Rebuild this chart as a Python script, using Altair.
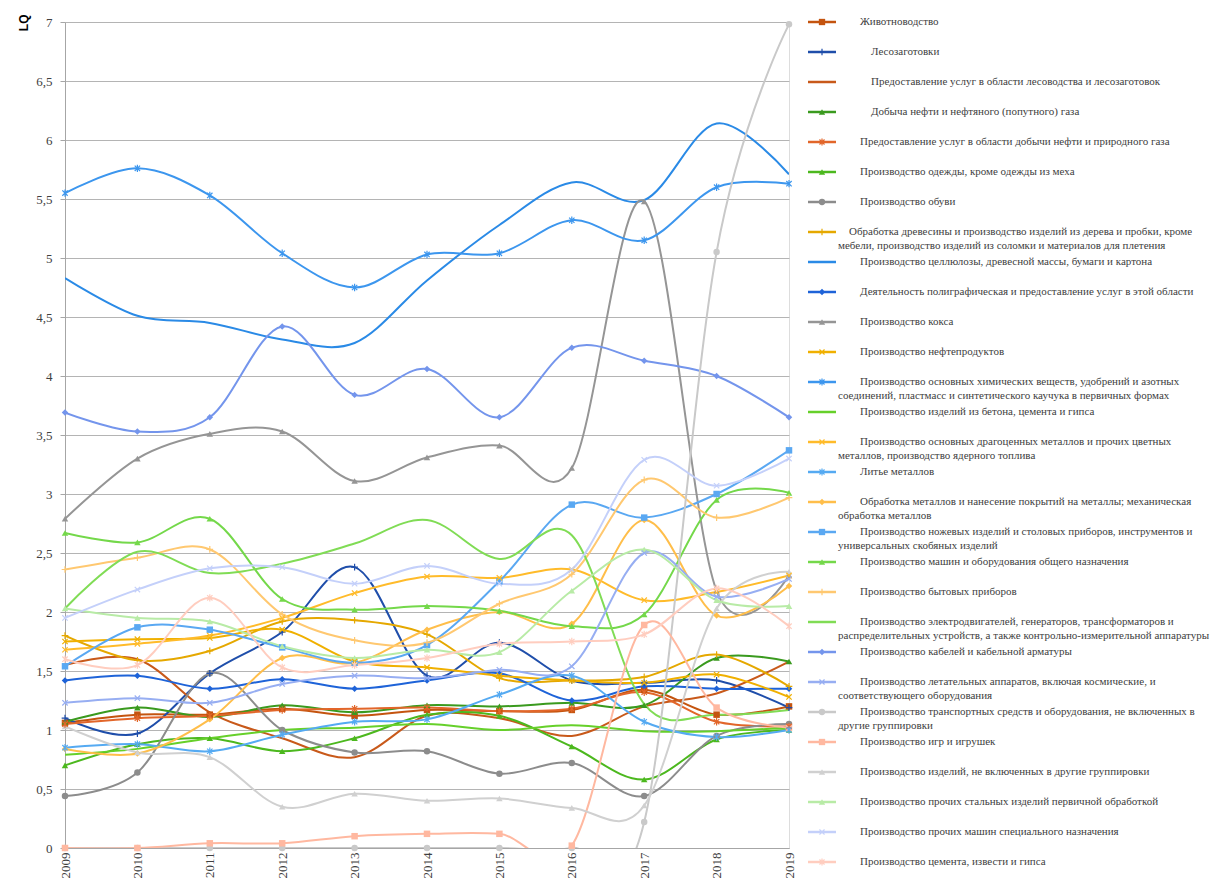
import altair as alt
import pandas as pd

years = list(range(2009, 2020))
y_ticks = [0, 0.5, 1, 1.5, 2, 2.5, 3, 3.5, 4, 4.5, 5, 5.5, 6, 6.5, 7]

names = [
    "Животноводство",
    "Лесозаготовки",
    "Предоставление услуг в области лесоводства и лесозаготовок",
    "Добыча нефти и нефтяного (попутного) газа",
    "Предоставление услуг в области добычи нефти и природного газа",
    "Производство одежды, кроме одежды из меха",
    "Производство обуви",
    "Обработка древесины и производство изделий из дерева и пробки, кроме\nмебели, производство изделий из соломки и материалов для плетения",
    "Производство целлюлозы, древесной массы, бумаги и картона",
    "Деятельность полиграфическая и предоставление услуг в этой области",
    "Производство кокса",
    "Производство нефтепродуктов",
    "Производство основных химических веществ, удобрений и азотных\nсоединений, пластмасс и синтетического каучука в первичных  формах",
    "Производство изделий из бетона, цемента и гипса",
    "Производство основных драгоценных  металлов и прочих цветных\nметаллов, производство ядерного топлива",
    "Литье металлов",
    "Обработка металлов и нанесение  покрытий  на металлы; механическая\nобработка металлов",
    "Производство ножевых изделий  и столовых приборов, инструментов и\nуниверсальных  скобяных изделий",
    "Производство машин и оборудования общего назначения",
    "Производство бытовых приборов",
    "Производство электродвигателей, генераторов, трансформаторов и\nраспределительных  устройств, а также контрольно-измерительной  аппаратуры",
    "Производство кабелей и кабельной арматуры",
    "Производство летательных  аппаратов,  включая космические, и\nсоответствующего оборудования",
    "Производство транспортных  средств и оборудования, не включенных в\nдругие группировки",
    "Производство игр и игрушек",
    "Производство изделий, не  включенных в другие группировки",
    "Производство прочих  стальных  изделий  первичной  обработкой",
    "Производство прочих  машин специального  назначения",
    "Производство цемента, извести и гипса",
]

# tab level of the first line of each legend label (1 = short, 2 = normal, 3 = deep)
tab_levels = [2, 3, 3, 3, 2, 2, 2, 1, 2, 2, 2, 2, 2, 2, 2, 2, 2, 2, 2, 2, 2, 2, 2, 2, 2, 2, 2, 2, 2]

colors = [
    "#C4540F", "#1F4EAA", "#C8591A", "#3A9A1E", "#E2662A", "#4CB81E", "#8C8C8C",
    "#E5A800", "#2A8AE6", "#1E63D8", "#959595", "#F0B000", "#3C96EE", "#66D02A",
    "#FFBB2A", "#55AAF2", "#FFBE4A", "#5AA8F2", "#74D84A", "#FFC870", "#80DC55",
    "#7495EC", "#97AEF2", "#C9C9C9", "#FFB8A0", "#D0D0D0", "#B8EBA6", "#C4D0FA",
    "#FFCDBF",
]

markers = [
    "square", "plus", "none", "triangle", "asterisk", "triangle", "circle",
    "plus", "none", "diamond", "triangle", "x", "asterisk", "none",
    "x", "asterisk", "diamond", "square", "triangle", "plus", "none",
    "diamond", "x", "circle", "square", "triangle", "triangle", "x",
    "asterisk",
]

s01 = [1.06, 1.13, 1.13, 1.18, 1.12, 1.17, 1.16, 1.17, 1.34, 1.13, 1.20]
s02 = [1.10, 0.97, 1.48, 1.83, 2.38, 1.46, 1.74, 1.42, 1.40, 1.42, 1.19]
s03 = [1.55, 1.60, 1.15, 0.93, 0.77, 1.12, 1.10, 0.95, 1.20, 1.31, 1.58]
s04 = [1.07, 1.19, 1.11, 1.21, 1.15, 1.21, 1.20, 1.23, 1.21, 1.61, 1.58]
s05 = [1.05, 1.10, 1.12, 1.17, 1.18, 1.19, 1.16, 1.18, 1.32, 1.07, 1.03]
s06 = [0.70, 0.88, 0.93, 0.82, 0.93, 1.13, 1.12, 0.86, 0.58, 0.92, 1.00]
s07 = [0.44, 0.64, 1.48, 1.00, 0.81, 0.82, 0.63, 0.72, 0.44, 0.95, 1.05]
s08 = [1.80, 1.59, 1.67, 1.92, 1.93, 1.81, 1.44, 1.42, 1.45, 1.64, 1.37]
s09 = [4.83, 4.51, 4.45, 4.31, 4.28, 4.81, 5.28, 5.64, 5.49, 6.14, 5.71]
s10 = [1.42, 1.46, 1.35, 1.43, 1.35, 1.42, 1.48, 1.25, 1.37, 1.35, 1.35]
s11 = [2.79, 3.30, 3.51, 3.53, 3.11, 3.31, 3.41, 3.22, 5.48, 2.18, 2.31]
s12 = [1.75, 1.77, 1.78, 1.85, 1.58, 1.53, 1.46, 1.42, 1.40, 1.47, 1.28]
s13 = [5.55, 5.76, 5.53, 5.04, 4.75, 5.03, 5.04, 5.32, 5.15, 5.60, 5.63]
s14 = [0.79, 0.84, 0.93, 1.00, 1.02, 1.05, 1.00, 1.04, 0.99, 0.99, 1.02]
s15 = [1.68, 1.73, 1.80, 1.95, 2.16, 2.30, 2.29, 2.36, 2.10, 2.17, 2.31]
s16 = [0.85, 0.88, 0.82, 0.96, 1.07, 1.09, 1.30, 1.46, 1.07, 0.94, 1.00]
s17 = [0.84, 0.80, 1.09, 1.61, 1.57, 1.85, 2.00, 1.90, 2.78, 1.97, 2.22]
s18 = [1.54, 1.87, 1.85, 1.70, 1.57, 1.72, 2.26, 2.91, 2.80, 3.00, 3.37]
s19 = [2.67, 2.59, 2.79, 2.11, 2.02, 2.05, 2.01, 1.88, 1.98, 2.95, 3.01]
s20 = [2.36, 2.46, 2.53, 1.98, 1.76, 1.74, 2.07, 2.32, 3.12, 2.80, 2.97]
s21 = [2.03, 2.51, 2.33, 2.41, 2.58, 2.78, 2.45, 2.65, 1.22, 1.13, 1.17]
s22 = [3.69, 3.53, 3.65, 4.42, 3.84, 4.06, 3.65, 4.24, 4.13, 4.00, 3.65]
s23 = [1.23, 1.27, 1.23, 1.39, 1.46, 1.44, 1.51, 1.54, 2.50, 2.13, 2.28]
s24 = [0.00, 0.00, 0.00, 0.00, 0.00, 0.00, 0.00, 0.00, 0.22, 5.05, 6.98]
s25 = [0.00, 0.00, 0.04, 0.04, 0.10, 0.12, 0.12, 0.02, 1.89, 1.19, 1.02]
s26 = [1.03, 0.81, 0.77, 0.35, 0.46, 0.40, 0.42, 0.34, 0.36, 2.03, 2.34]
s27 = [2.03, 1.95, 1.92, 1.71, 1.61, 1.68, 1.66, 2.18, 2.53, 2.10, 2.05]
s28 = [1.95, 2.19, 2.37, 2.38, 2.24, 2.39, 2.24, 2.36, 3.29, 3.07, 3.30]
s29 = [1.60, 1.55, 2.12, 1.53, 1.55, 1.61, 1.73, 1.75, 1.81, 2.20, 1.88]

series = [s01, s02, s03, s04, s05, s06, s07, s08, s09, s10, s11, s12, s13, s14,
          s15, s16, s17, s18, s19, s20, s21, s22, s23, s24, s25, s26, s27, s28, s29]

# ---- long tables ----
rows = []
for i, (n, m, vals) in enumerate(zip(names, markers, series)):
    for yr, v in zip(years, vals):
        rows.append({"name": n, "order": i, "marker": m, "year": yr, "value": v})
df = pd.DataFrame(rows)

line1 = [n.split("\n")[0] for n in names]
line2 = [n.split("\n")[1] if "\n" in n else "" for n in names]
leg = pd.DataFrame({
    "name": names,
    "idx": list(range(len(names))),
    "marker": markers,
    "line1": line1,
    "line2": line2,
    "level": tab_levels,
})

shape_domain = ["square", "triangle", "circle", "diamond", "plus", "x", "asterisk"]
shape_range = [
    "square", "triangle-up", "circle", "diamond",
    "M-1,0L1,0M0,-1L0,1",
    "M-0.8,-0.8L0.8,0.8M-0.8,0.8L0.8,-0.8",
    "M-0.8,-0.8L0.8,0.8M-0.8,0.8L0.8,-0.8M0,-1.1L0,1.1",
]
filled_kinds = ["square", "triangle", "circle", "diamond"]
stroke_kinds = ["plus", "x", "asterisk"]

color = alt.Color("name:N", scale=alt.Scale(domain=names, range=colors), legend=None)
shape = alt.Shape("marker:N", scale=alt.Scale(domain=shape_domain, range=shape_range), legend=None)

W, H = 724, 826
serif = "Liberation Serif"

x_enc = alt.X("year:Q", scale=alt.Scale(domain=[2009, 2019], nice=False, zero=False),
              axis=alt.Axis(values=years, format="d", labelAngle=-90, grid=False, ticks=False,
                            title=None, labelFont=serif, labelFontSize=13, labelColor="#404040",
                            domainColor="#A6A6A6", labelPadding=4))
y_enc = alt.Y("value:Q", scale=alt.Scale(domain=[0, 7], nice=False, zero=True),
              axis=alt.Axis(values=y_ticks, format="~g",
                            labelExpr="replace(datum.label, '.', ',')",
                            title="LQ", titleFont="Liberation Sans", titleFontSize=12,
                            titleFontWeight="bold", titleColor="#000000", titleAngle=-90,
                            titleAlign="right", titleBaseline="middle", titleX=-42, titleY=-8,
                            labelFont=serif, labelFontSize=13, labelColor="#404040",
                            labelPadding=8, tickSize=5, tickColor="#A6A6A6",
                            gridColor="#B4B4B4", domainColor="#A6A6A6"))

base = alt.Chart(df)
lines = base.mark_line(interpolate="cardinal", tension=0, strokeWidth=2, clip=True).encode(
    x=x_enc, y=y_enc, color=color, detail="order:O")
pts_f = base.transform_filter(
    alt.FieldOneOfPredicate(field="marker", oneOf=filled_kinds)
).mark_point(filled=True, size=42, opacity=1).encode(
    x="year:Q", y="value:Q", color=color, shape=shape)
pts_s = base.transform_filter(
    alt.FieldOneOfPredicate(field="marker", oneOf=stroke_kinds)
).mark_point(filled=False, size=45, strokeWidth=1.2, opacity=1).encode(
    x="year:Q", y="value:Q", color=color, shape=shape)

main = alt.layer(lines, pts_f, pts_s)

# ---- hand-built legend on the right ----
leg_y = alt.Y("idx:Q", scale=alt.Scale(domain=[0, H / 30], reverse=True, nice=False, zero=False),
              axis=None)
lbase = alt.Chart(leg)
l_rule = lbase.mark_rule(strokeWidth=2.5).encode(
    x=alt.value(743), x2=alt.value(771), y=leg_y, color=color)
l_pf = lbase.transform_filter(
    alt.FieldOneOfPredicate(field="marker", oneOf=filled_kinds)
).mark_point(filled=True, size=40, opacity=1).encode(
    x=alt.value(757), y=leg_y, color=color, shape=shape)
l_ps = lbase.transform_filter(
    alt.FieldOneOfPredicate(field="marker", oneOf=stroke_kinds)
).mark_point(filled=False, size=40, strokeWidth=1.2, opacity=1).encode(
    x=alt.value(757), y=leg_y, color=color, shape=shape)

text_style = dict(align="left", baseline="middle", font=serif, fontSize=11, color="#404040")
tab_px = {1: 11, 2: 22, 3: 33}
l_texts = []
for lvl, px in tab_px.items():
    l_texts.append(
        lbase.transform_filter(alt.datum.level == lvl).mark_text(**text_style).encode(
            x=alt.value(773 + px), y=leg_y, text="line1:N"))
l_texts.append(
    lbase.transform_filter(alt.datum.line2 != "").mark_text(dy=13.5, **text_style).encode(
        x=alt.value(773), y=leg_y, text="line2:N"))

legend = alt.layer(l_rule, l_pf, l_ps, *l_texts)

chart = alt.layer(main, legend).resolve_scale(y="independent").properties(
    width=W, height=H,
    autosize=alt.AutoSizeParams(type="none"),
    padding={"left": 57, "top": 14, "right": 425, "bottom": 30},
).configure_view(stroke=None).configure(background="white")

chart.save("out.html", embed_options={"renderer": "svg", "actions": False})
